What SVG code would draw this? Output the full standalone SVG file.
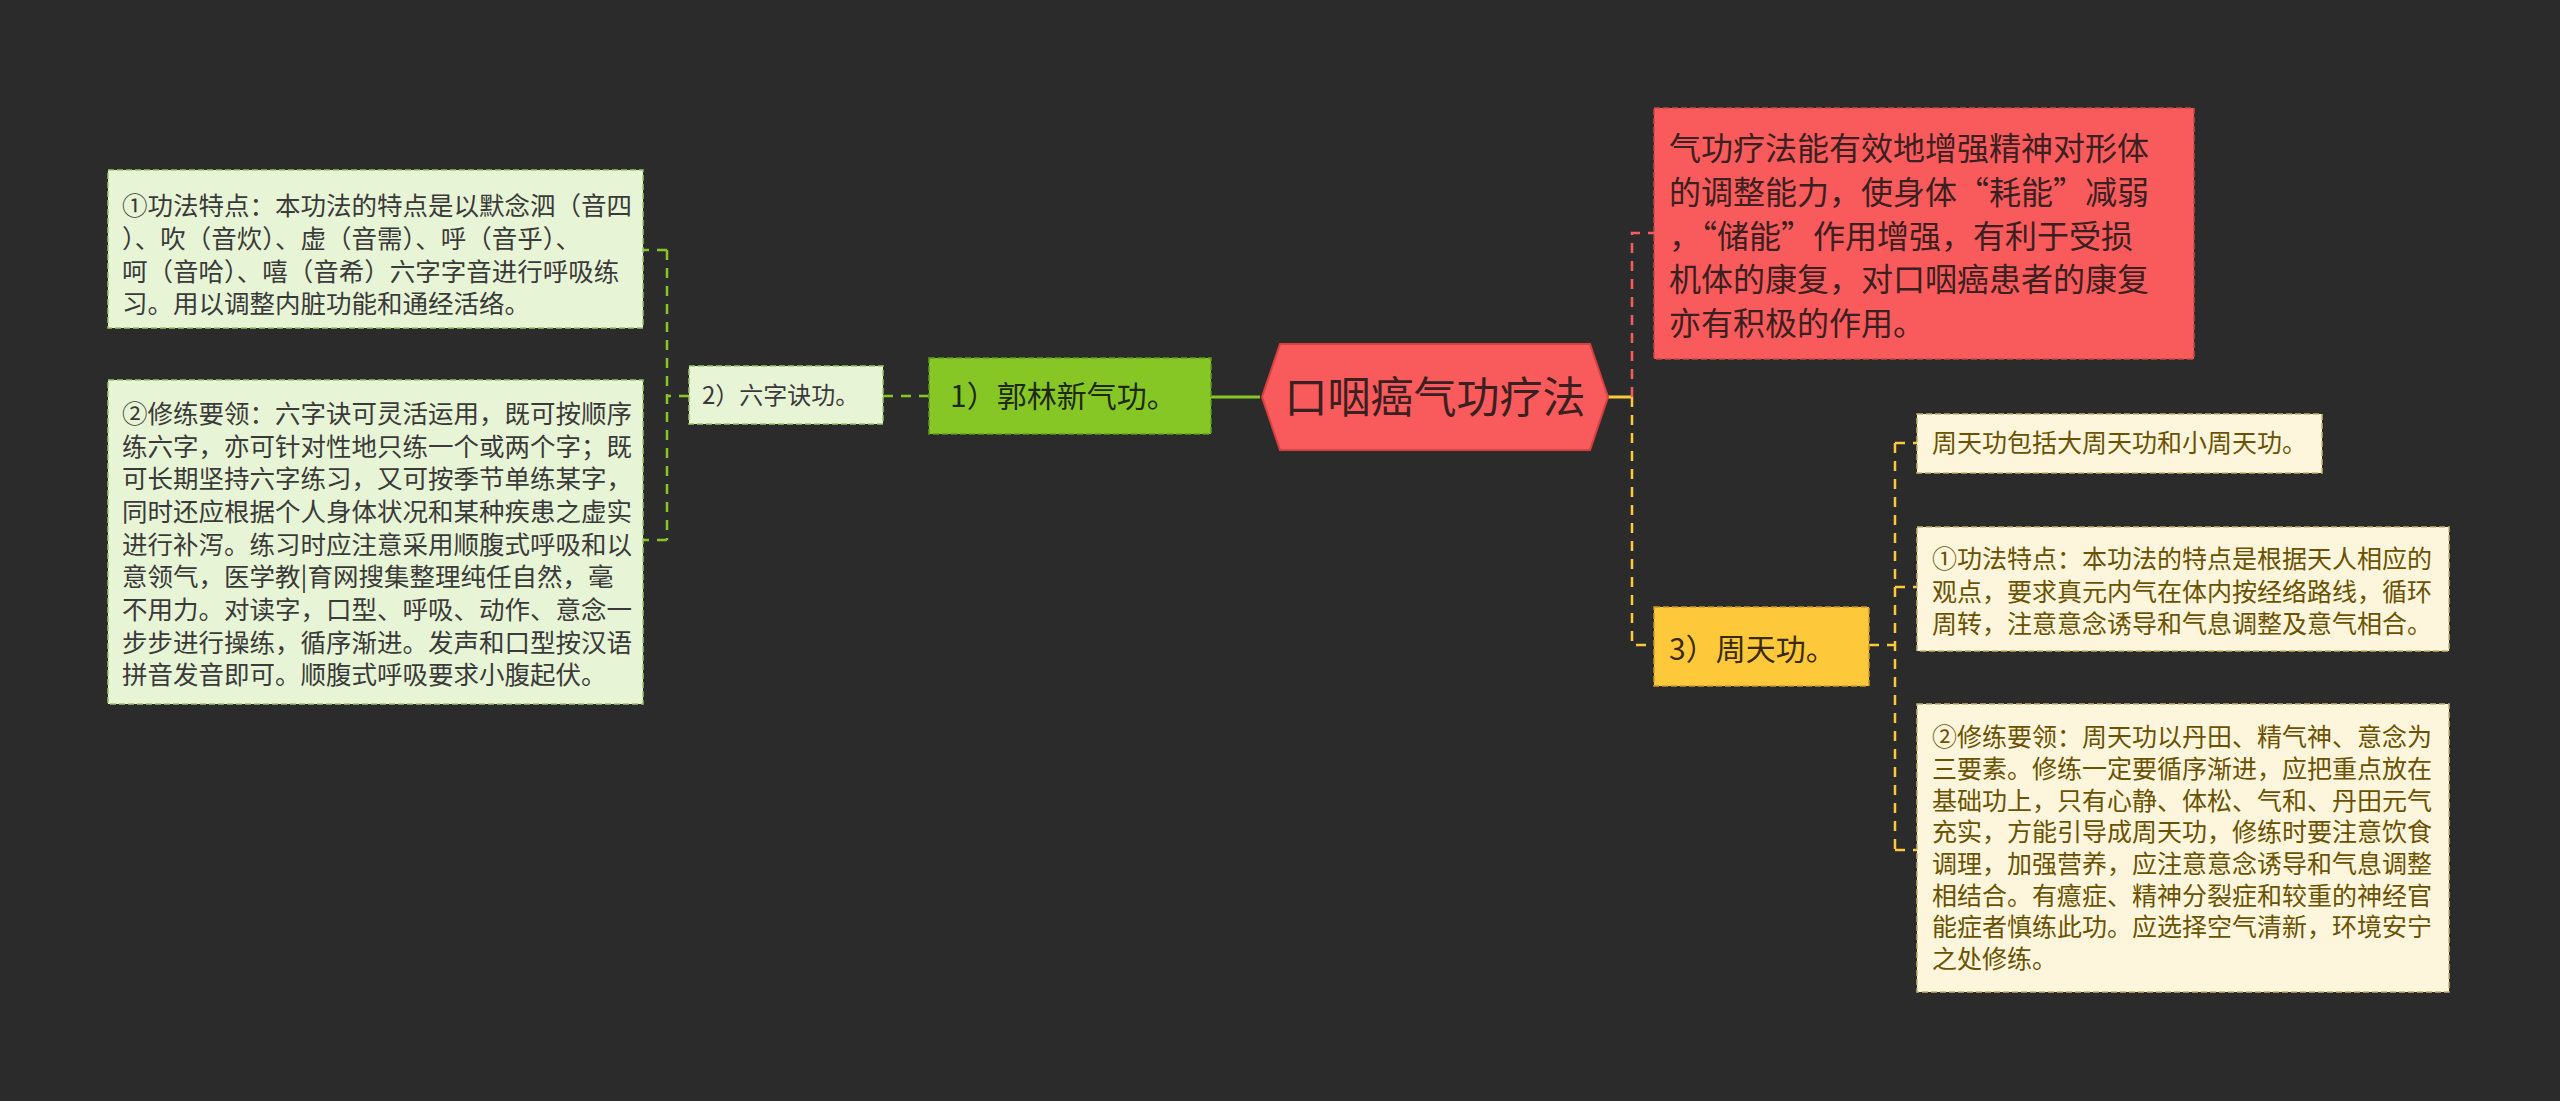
<svg xmlns="http://www.w3.org/2000/svg" width="2560" height="1101" viewBox="0 0 2560 1101">
<style>
text{font-family:"Noto Sans CJK SC","Noto Sans",sans-serif}
.c{fill:none;stroke-width:2.5;stroke-dasharray:10 8}
.lf{fill:#e8f4d6;stroke:#9cc56a;stroke-width:1.5;stroke-dasharray:6 3}
.rf{fill:#fdf6dc;stroke:#c9b26a;stroke-width:1.5;stroke-dasharray:6 3}
.lt{font-size:25.5px;fill:#3a3a3a}
.rt{font-size:25px;fill:#6b5200}
</style>
<rect width="2560" height="1101" fill="#2b2b2b"/>
<g id="connectors">
<path d="M1608 397 H1632" stroke="#fdc83a" stroke-width="3" fill="none"/>
<path class="c" stroke="#f95a5b" d="M1632 397 V233 H1654"/>
<path class="c" stroke="#fdc83a" d="M1632 397 V645 H1654"/>
<path class="c" stroke="#fdc83a" d="M1869 645 H1895 M1895 443 V850 M1895 443 H1917 M1895 587 H1917 M1895 850 H1917"/>
<path d="M1260 397 H1211" stroke="#86c726" stroke-width="3" fill="none"/>
<path class="c" stroke="#86c726" d="M929 396 H883"/>
<path class="c" stroke="#86c726" d="M689 396 H667 M667 250 V540 M667 250 H643 M667 540 H643"/>
</g>
<g id="root">
<polygon points="1280,344 1590,344 1608,397 1590,450 1280,450 1262,397" fill="#f95a5b" stroke="#d94040" stroke-width="2"/>
<text x="1435" y="413" font-size="43" fill="#3a2020" text-anchor="middle">口咽癌气功疗法</text>
</g>
<g id="red">
<rect x="1654" y="108" width="540" height="251" fill="#f95a5b" stroke="#c94545" stroke-width="1.5" stroke-dasharray="6 3"/>
<g font-size="32" fill="#3a2020">
<text x="1669" y="160">气功疗法能有效地增强精神对形体</text>
<text x="1669" y="204">的调整能力，使身体“耗能”减弱</text>
<text x="1669" y="248">，“储能”作用增强，有利于受损</text>
<text x="1669" y="291">机体的康复，对口咽癌患者的康复</text>
<text x="1669" y="335">亦有积极的作用。</text>
</g>
</g>
<g id="zhoutian">
<rect x="1654" y="607" width="215" height="79" fill="#fdc83a" stroke="#c9982a" stroke-width="1.5" stroke-dasharray="6 3"/>
<text x="1669" y="660" font-size="30" fill="#3a2a00">3）周天功。</text>
</g>
<g id="r1">
<rect class="rf" x="1917" y="414" width="405" height="59"/>
<text class="rt" x="1932" y="452">周天功包括大周天功和小周天功。</text>
</g>
<g id="r2">
<rect class="rf" x="1917" y="527" width="532" height="124"/>
<text class="rt" x="1932" y="568">①功法特点：本功法的特点是根据天人相应的</text>
<text class="rt" x="1932" y="601">观点，要求真元内气在体内按经络路线，循环</text>
<text class="rt" x="1932" y="633">周转，注意意念诱导和气息调整及意气相合。</text>
</g>
<g id="r3">
<rect class="rf" x="1917" y="704" width="532" height="288"/>
<g class="rt">
<text x="1932" y="746">②修练要领：周天功以丹田、精气神、意念为</text>
<text x="1932" y="778">三要素。修练一定要循序渐进，应把重点放在</text>
<text x="1932" y="810">基础功上，只有心静、体松、气和、丹田元气</text>
<text x="1932" y="841">充实，方能引导成周天功，修练时要注意饮食</text>
<text x="1932" y="873">调理，加强营养，应注意意念诱导和气息调整</text>
<text x="1932" y="905">相结合。有癔症、精神分裂症和较重的神经官</text>
<text x="1932" y="936">能症者慎练此功。应选择空气清新，环境安宁</text>
<text x="1932" y="968">之处修练。</text>
</g>
</g>
<g id="guolin">
<rect x="929" y="358" width="282" height="76" fill="#86c726" stroke="#5f9a18" stroke-width="1.5" stroke-dasharray="6 3"/>
<text x="950" y="407" font-size="30" fill="#1e2a10">1）郭林新气功。</text>
</g>
<g id="liuzi">
<rect class="lf" x="689" y="366" width="194" height="58"/>
<text x="702" y="404" font-size="24" fill="#3a3a3a">2）六字诀功。</text>
</g>
<g id="l1">
<rect class="lf" x="108" y="170" width="535" height="158"/>
<g class="lt">
<text x="122" y="215">①功法特点：本功法的特点是以默念泗（音四</text>
<text x="122" y="248">）、吹（音炊）、虚（音需）、呼（音乎）、</text>
<text x="122" y="281">呵（音哈）、嘻（音希）六字字音进行呼吸练</text>
<text x="122" y="313">习。用以调整内脏功能和通经活络。</text>
</g>
</g>
<g id="l2">
<rect class="lf" x="108" y="380" width="535" height="324"/>
<g class="lt">
<text x="122" y="423">②修练要领：六字诀可灵活运用，既可按顺序</text>
<text x="122" y="456">练六字，亦可针对性地只练一个或两个字；既</text>
<text x="122" y="488">可长期坚持六字练习，又可按季节单练某字，</text>
<text x="122" y="521">同时还应根据个人身体状况和某种疾患之虚实</text>
<text x="122" y="554">进行补泻。练习时应注意采用顺腹式呼吸和以</text>
<text x="122" y="586">意领气，医学教|育网搜集整理纯任自然，毫</text>
<text x="122" y="619">不用力。对读字，口型、呼吸、动作、意念一</text>
<text x="122" y="652">步步进行操练，循序渐进。发声和口型按汉语</text>
<text x="122" y="684">拼音发音即可。顺腹式呼吸要求小腹起伏。</text>
</g>
</g>
</svg>
